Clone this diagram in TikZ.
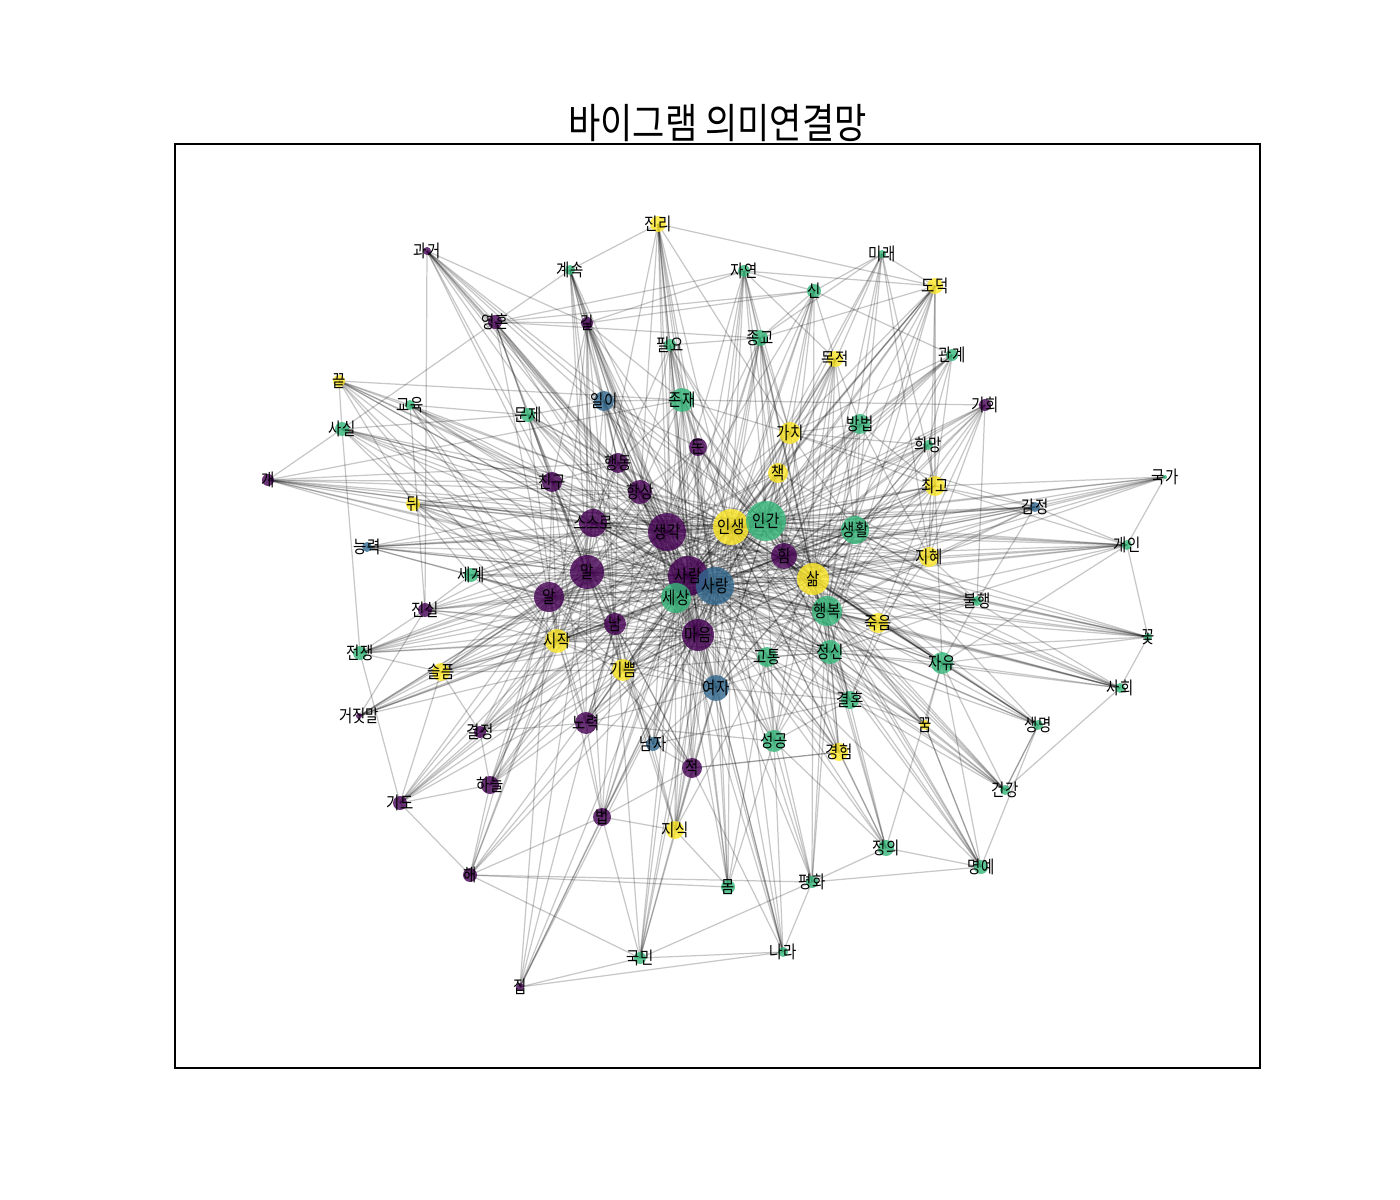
\documentclass[tikz,border=0pt]{standalone}
\usepackage{fontspec}
\usepackage{xcolor}
\newfontfamily\krfont[FakeStretch=0.82]{Noto Sans CJK KR}
\newfontfamily\krtitle[FakeStretch=0.85]{Noto Sans CJK KR}

\definecolor{vpurple}{HTML}{440154}
\definecolor{vblue}{HTML}{31688E}
\definecolor{vgreen}{HTML}{35B779}
\definecolor{vyellow}{HTML}{FDE725}

\pgfdeclarelayer{edges}
\pgfdeclarelayer{labels}
\pgfsetlayers{edges,main,labels}

\tikzset{
  dot/.style={circle, inner sep=0pt, draw=none, fill=#1, fill opacity=0.8},
  word/.style={inner sep=0pt, text=black, font=\krfont\fontsize{10}{12}\selectfont},
  link/.style={draw=black, draw opacity=0.22, line width=0.7pt},
}

\begin{document}
\begin{tikzpicture}[x=0.2mm, y=-0.2mm]
\useasboundingbox (0,0) rectangle (1400,1200);

% Frame and title
\draw[line width=0.6pt] (175,144) rectangle (1260,1068);
\node[font=\krtitle\fontsize{23.5}{26}\selectfont, inner sep=0pt] (title) at (717.5,123) {바이그램 의미연결망};

% Words: name / x / y / radius / colour / text
\foreach \nm/\x/\y/\rad/\col/\txt in {
  gwageo/427/251/4/vpurple/과거, jinri/658/224/8/vyellow/진리,
  gyesok/570/270/5/vgreen/계속, jayeon/744/271/6/vgreen/자연,
  mirae/882/254/4/vgreen/미래, sin/814/291/7/vgreen/신,
  dodeok/935/286/8/vyellow/도덕, yeonghon/495/322/7/vpurple/영혼,
  gil/587/323/6/vpurple/길, pilyo/670/345/6/vgreen/필요,
  jonggyo/760/338/8/vgreen/종교, mokjeok/835/359/8/vyellow/목적,
  gwangye/952/355/6/vgreen/관계, kkeut/339/381/6/vyellow/끝,
  gyoyuk/410/405/5/vgreen/교육, munje/528/415/7/vgreen/문제,
  iri/604/401/10/vblue/일이, jonjae/682/400/12/vgreen/존재,
  gachi/790/433/11/vyellow/가치, bangbeop/860/424/10/vgreen/방법,
  gihoe/985/405/6/vpurple/기회, sasil/342/429/7/vgreen/사실,
  huimang/928/445/5/vgreen/희망, don/698/447/9/vpurple/돈,
  chaek/778/473/10/vyellow/책, choego/935/486/10/vyellow/최고,
  haengdong/618/463/10/vpurple/행동, chingu/552/482/10/vpurple/친구,
  hangsang/640/492/12/vpurple/항상, gae/268/480/6/vpurple/개,
  dwi/413/504/7/vyellow/뒤, gukga/1165/477/2/vgreen/국가,
  gamjeong/1035/507/5/vblue/감정, seuseuro/593/523/14/vpurple/스스로,
  saenggak/667/532/19/vpurple/생각, insaeng/731/527/18/vyellow/인생,
  ingan/766/521/20/vgreen/인간, saenghwal/855/530/14/vgreen/생활,
  him/784/556/13/vpurple/힘, jihye/929/557/10/vyellow/지혜,
  gaein/1127/545/5/vgreen/개인, neungryeok/367/547/5/vblue/능력,
  segye/471/575/7/vgreen/세계, mal/587/572/17/vpurple/말,
  saram/688/576/20/vpurple/사람, sarang/715/586/19/vblue/사랑,
  salm/813/579/16/vyellow/삶, bulhaeng/977/601/5/vgreen/불행,
  al/549/597/15/vpurple/알, sesang/676/598/15/vgreen/세상,
  haengbok/827/611/15/vgreen/행복, jinsil/425/610/7/vpurple/진실,
  nam/615/624/11/vpurple/남, jugeum/878/623/10/vyellow/죽음,
  maeum/698/635/16/vpurple/마음, kkot/1148/637/4/vgreen/꽃,
  sijak/557/641/12/vyellow/시작, jeongsin/830/652/12/vgreen/정신,
  jeonjaeng/360/653/7/vgreen/전쟁, gotong/767/657/10/vgreen/고통,
  jayu/942/663/11/vgreen/자유, seulpeum/441/672/9/vyellow/슬픔,
  gippeum/623/670/11/vyellow/기쁨, yeoja/716/688/13/vblue/여자,
  sahoe/1120/688/5/vgreen/사회, gyeolhon/850/700/9/vgreen/결혼,
  geojitmal/359/716/3/vpurple/거짓말, gyeoljeong/480/732/6/vpurple/결정,
  noryeok/586/723/11/vpurple/노력, kkum/925/725/5/vyellow/꿈,
  saengmyeong/1038/725/5/vgreen/생명, namja/653/744/7/vblue/남자,
  seonggong/774/741/11/vgreen/성공, gyeongheom/839/752/9/vyellow/경험,
  jeok/692/768/10/vpurple/적, haneul/490/785/9/vpurple/하늘,
  gido/400/803/7/vpurple/기도, geongang/1005/790/5/vgreen/건강,
  beop/602/817/9/vpurple/법, jisik/675/830/9/vyellow/지식,
  jeongui/886/848/8/vgreen/정의, myeongye/981/867/7/vgreen/명예,
  hae/470/875/7/vpurple/해, mom/728/887/7/vgreen/몸,
  pyeonghwa/812/882/6/vgreen/평화, gukmin/640/958/6/vgreen/국민,
  nara/783/952/5/vgreen/나라, jip/520/987/4/vpurple/집}
{
  \node[dot=\col, minimum size=\rad*0.4mm] (\nm) at (\x,\y) {};
  \begin{pgfonlayer}{labels}
    \node[word] (\nm-t) at (\nm.center) {\txt};
  \end{pgfonlayer}
}

\begin{pgfonlayer}{edges}
% Dense core: every hub to every other hub
\def\hubs{saram,sarang,saenggak,insaeng,ingan,maeum,mal,al,sesang,salm,haengbok,him,seuseuro,saenghwal,hangsang,yeoja,jeongsin,sijak,gippeum}
\foreach \a [count=\i] in \hubs {
  \foreach \b [count=\j] in \hubs {
    \ifnum\j>\i \draw[link] (\a.center) -- (\b.center); \fi
  }
}

% Other words and their neighbours
\foreach \a/\nb in {
  gwageo/{jinsil,haengdong,hangsang,saenggak,saram,maeum,chingu,insaeng,ingan,mal,gil,iri},
  gyesok/{jinri,yeonghon,gil,haengdong,hangsang,saenggak,saram,sarang,maeum,mal,seuseuro,iri,nam},
  jinri/{pilyo,jonjae,saenggak,saram,sarang,insaeng,maeum,mal,hangsang,dodeok,gachi,don,sesang},
  jayeon/{sin,jonggyo,gachi,insaeng,saram,sarang,maeum,saenggak,salm,him,ingan,gil,yeonghon,dodeok,mokjeok},
  mirae/{sin,jonggyo,gachi,insaeng,ingan,salm,saenghwal,haengbok,dodeok,jihye,choego},
  sin/{jonggyo,gachi,insaeng,ingan,saram,sarang,saenggak,him,salm,yeonghon,gil,gwangye,mokjeok},
  dodeok/{gachi,chaek,insaeng,ingan,salm,haengbok,him,saram,sarang,jeongsin,jihye,choego,jonggyo},
  yeonghon/{gwageo,sasil,munje,chingu,haengdong,hangsang,saenggak,saram,maeum,mal,al,jonggyo,gil},
  gil/{chingu,haengdong,hangsang,saenggak,saram,sarang,mal,seuseuro,nam,sijak,maeum,insaeng,jonjae},
  pilyo/{jonjae,don,saenggak,saram,sarang,hangsang,haengdong,maeum,insaeng,ingan,salm,jonggyo},
  jonggyo/{gachi,chaek,insaeng,ingan,saram,sarang,saenggak,him,salm,maeum,sesang,jeongsin},
  mokjeok/{gachi,insaeng,ingan,salm,saram,him,haengbok,saenghwal,bangbeop,maeum,seonggong},
  gwangye/{gachi,bangbeop,insaeng,ingan,salm,saram,sarang,haengbok,choego,huimang},
  kkeut/{sasil,gyoyuk,dwi,chingu,seuseuro,saenggak,saram,mal,al,hangsang,jonjae,sijak},
  gyoyuk/{munje,chingu,seuseuro,saenggak,saram,mal,al,insaeng,sijak,jinsil},
  munje/{iri,chingu,haengdong,hangsang,saenggak,saram,sarang,mal,maeum,nam,sijak,insaeng,sasil},
  iri/{haengdong,hangsang,saenggak,saram,sarang,mal,maeum,insaeng,ingan,jonjae,don,nam,sesang},
  jonjae/{gachi,don,haengdong,hangsang,saenggak,saram,sarang,insaeng,ingan,salm,maeum,sesang,gihoe},
  gachi/{chaek,insaeng,ingan,salm,saram,sarang,saenggak,him,haengbok,saenghwal,bangbeop,choego,gamjeong},
  bangbeop/{insaeng,ingan,salm,saram,him,saenghwal,haengbok,choego,jihye,saenggak,sarang},
  gihoe/{choego,jihye,insaeng,ingan,salm,him,saram,saenghwal,haengbok,bulhaeng,gyeolhon},
  sasil/{chingu,seuseuro,saenggak,saram,mal,al,hangsang,insaeng,jeonjaeng,sijak,gae},
  huimang/{gachi,insaeng,ingan,salm,saram,him,saenghwal,haengbok,choego},
  don/{hangsang,saenggak,saram,sarang,insaeng,ingan,maeum,salm,him,haengbok,mal,nam,yeoja},
  chaek/{insaeng,ingan,saram,sarang,saenggak,salm,him,maeum,sesang,haengbok,jihye},
  choego/{gukga,gamjeong,gaein,jihye,insaeng,ingan,salm,saram,sarang,saenggak,him,haengbok,saenghwal,jugeum,jayu},
  haengdong/{hangsang,saenggak,saram,sarang,mal,al,seuseuro,chingu,insaeng,maeum,nam},
  chingu/{seuseuro,saenggak,saram,sarang,mal,al,sijak,nam,gippeum,noryeok},
  gae/{chingu,seuseuro,saenggak,saram,sarang,insaeng,ingan,mal,hangsang,haengdong,dwi,jonjae},
  dwi/{chingu,seuseuro,saenggak,saram,sarang,mal,al,hangsang,segye,insaeng,ingan,maeum},
  gukga/{gamjeong,gaein,jihye,insaeng,ingan,saenghwal,salm,him,sesang},
  gamjeong/{jihye,insaeng,ingan,saenghwal,salm,him,saram,saenggak,seuseuro,haengbok,bulhaeng},
  jihye/{insaeng,ingan,salm,saram,sarang,him,haengbok,saenghwal,jugeum},
  gaein/{jihye,gamjeong,insaeng,ingan,saenghwal,salm,him,saram,saenggak,sarang,haengbok,jugeum},
  neungryeok/{seuseuro,saenggak,saram,sarang,mal,al,insaeng,ingan,hangsang,segye,him},
  segye/{mal,al,saram,sarang,saenggak,seuseuro,sijak,nam,insaeng,maeum,jinsil},
  bulhaeng/{salm,haengbok,him,insaeng,saram,jugeum,jayu,jihye,saenghwal,jeongsin,kkot},
  jinsil/{mal,al,saram,sarang,saenggak,sijak,nam,maeum,seuseuro,jeonjaeng,geojitmal},
  nam/{mal,al,saram,sarang,maeum,sijak,gippeum,saenggak,noryeok},
  jugeum/{salm,haengbok,insaeng,saram,sarang,ingan,jeongsin,him,jayu,gyeolhon},
  kkot/{gaein,salm,haengbok,insaeng,ingan,saram,sarang,him,saenggak,jeongsin,jayu,sahoe},
  jeonjaeng/{mal,al,saram,sarang,sijak,seulpeum,nam,saenggak,maeum,insaeng,gido},
  gotong/{salm,haengbok,maeum,sarang,saram,jeongsin,insaeng,yeoja,seonggong},
  jayu/{salm,haengbok,jeongsin,insaeng,ingan,saram,sarang,him,saengmyeong,geongang,kkum,sahoe,gaein},
  seulpeum/{mal,al,saram,sarang,sijak,gippeum,maeum,nam,saenggak,geojitmal,seuseuro,insaeng},
  sahoe/{haengbok,salm,insaeng,ingan,saram,sarang,him,jeongsin,jugeum,saenghwal,geongang},
  gyeolhon/{salm,haengbok,jeongsin,yeoja,namja,saram,sarang,maeum,insaeng,seonggong,gotong},
  geojitmal/{mal,al,saram,sarang,sijak,maeum,nam,saenggak},
  gyeoljeong/{mal,al,saram,sijak,seulpeum,maeum,nam,saenggak,sarang,haneul,noryeok},
  noryeok/{mal,al,saram,sarang,maeum,sijak,gippeum,seonggong,saenggak,nam,yeoja,sesang},
  kkum/{salm,haengbok,jeongsin,insaeng,saram,sarang,him,myeongye,geongang,gyeolhon},
  saengmyeong/{salm,haengbok,jeongsin,insaeng,ingan,saram,sarang,him,geongang,saenghwal},
  namja/{yeoja,saram,sarang,maeum,sesang,mal,gippeum,jeok,jisik,nam,saenggak},
  seonggong/{salm,haengbok,insaeng,saram,sarang,maeum,jeongsin,mom,pyeonghwa,ingan,sesang},
  gyeongheom/{salm,haengbok,jeongsin,insaeng,saram,sarang,maeum,gotong,jeok,ingan},
  jeok/{saram,sarang,maeum,sesang,yeoja,mal,al,nam,gippeum,jisik,gyeongheom},
  haneul/{mal,al,saram,sarang,sijak,maeum,nam,saenggak,seuseuro,hae,gido},
  gido/{mal,al,saram,sijak,seulpeum,maeum,nam,hae,sarang,gyeoljeong},
  geongang/{salm,haengbok,jeongsin,insaeng,him,saram,sarang,gyeolhon,saengmyeong},
  beop/{mal,al,saram,sarang,maeum,sesang,nam,hae,jip,noryeok,gukmin,jisik,saenggak,jeok},
  jisik/{saram,sarang,maeum,sesang,nam,gippeum,salm,insaeng,ingan},
  jeongui/{salm,haengbok,jeongsin,seonggong,gyeongheom,insaeng,saram,sarang,pyeonghwa,myeongye,jayu},
  myeongye/{jayu,salm,haengbok,jeongsin,insaeng,him,saram,kkum,pyeonghwa,saengmyeong},
  hae/{mal,al,saram,sijak,mom,gukmin,pyeonghwa,sarang,maeum},
  mom/{maeum,saram,sarang,sesang,gotong,yeoja,jisik,insaeng},
  pyeonghwa/{salm,haengbok,jeongsin,insaeng,nara,gukmin,saram,sarang},
  gukmin/{jip,nara,saram,sarang,maeum,sesang,nam,jisik,yeoja},
  nara/{seonggong,saram,sarang,maeum,sesang,yeoja,insaeng,jip,jeok},
  jip/{saram,sarang,maeum,nam,al,mal}}
{
  \foreach \b in \nb {\draw[link] (\a.center) -- (\b.center);}
}
\end{pgfonlayer}

\end{tikzpicture}
\end{document}
